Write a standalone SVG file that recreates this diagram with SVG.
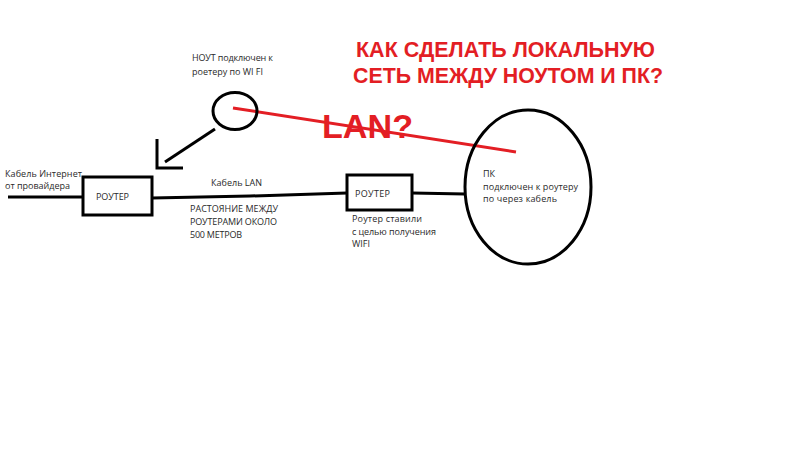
<svg xmlns="http://www.w3.org/2000/svg" width="800" height="450" viewBox="0 0 800 450">
<style>
.ln{fill:none;stroke:#000;stroke-width:3;stroke-linecap:butt}
.sh{fill:#fff;stroke:#000;stroke-width:3}
.t{font-family:"Open Sans","Liberation Sans",sans-serif;font-size:9px;fill:#2a2a2a}
.r{font-family:"Liberation Sans","Open Sans",sans-serif;font-weight:bold;fill:#e31e24}
</style>
<rect width="800" height="450" fill="#fff"/>
<g id="connectors">
<line class="ln" x1="8" y1="197" x2="83" y2="197"/>
<polyline class="ln" points="152,198 250,196 347,193"/>
<line class="ln" x1="412" y1="193" x2="465" y2="194"/>
<line class="ln" x1="215" y1="129" x2="165" y2="162" stroke-width="3.5"/>
<polyline class="ln" points="157,139 157,168 183,168"/>
<line x1="233" y1="108" x2="516" y2="152" stroke="#e31e24" stroke-width="3"/>
</g>
<g id="router1">
<rect class="sh" x="83" y="177" width="69" height="38"/>
<text class="t" x="96" y="200" font-size="10" textLength="33">РОУТЕР</text>
</g>
<g id="router2">
<rect class="sh" x="347" y="175" width="65" height="35"/>
<text class="t" x="355" y="197" font-size="10" textLength="35">РОУТЕР</text>
</g>
<g id="laptop">
<ellipse cx="235" cy="111" rx="22" ry="18.5" fill="none" stroke="#000" stroke-width="3"/>
</g>
<g id="pc">
<ellipse cx="528" cy="187" rx="63" ry="77" fill="none" stroke="#000" stroke-width="3"/>
<text class="t" x="483" y="177">ПК</text>
<text class="t" x="483" y="190" textLength="95">подключен к роутеру</text>
<text class="t" x="483" y="202" textLength="74">по через кабель</text>
</g>
<g id="labels">
<text class="t" x="5" y="177" textLength="77">Кабель Интернет</text>
<text class="t" x="5" y="189" textLength="65">от провайдера</text>
<text class="t" x="211" y="186" font-size="10" textLength="51">Кабель LAN</text>
<text class="t" x="190" y="212" textLength="88">РАСТОЯНИЕ МЕЖДУ</text>
<text class="t" x="190" y="225" textLength="87">РОУТЕРАМИ ОКОЛО</text>
<text class="t" x="190" y="237.5" textLength="52">500 МЕТРОВ</text>
<text class="t" x="192" y="61" textLength="81">НОУТ подключен к</text>
<text class="t" x="192" y="75" textLength="71">роетеру по WI FI</text>
<text class="t" x="352" y="222" textLength="70">Роутер ставили</text>
<text class="t" x="352" y="234.5" textLength="84">с целью получения</text>
<text class="t" x="352" y="247">WIFI</text>
<text class="r" x="356" y="57" font-size="22" textLength="299" lengthAdjust="spacingAndGlyphs">КАК СДЕЛАТЬ ЛОКАЛЬНУЮ</text>
<text class="r" x="353" y="83" font-size="22" textLength="310" lengthAdjust="spacingAndGlyphs">СЕТЬ МЕЖДУ НОУТОМ И ПК?</text>
<text class="r" x="322" y="138" font-size="34" textLength="91" lengthAdjust="spacingAndGlyphs">LAN?</text>
</g>
</svg>
